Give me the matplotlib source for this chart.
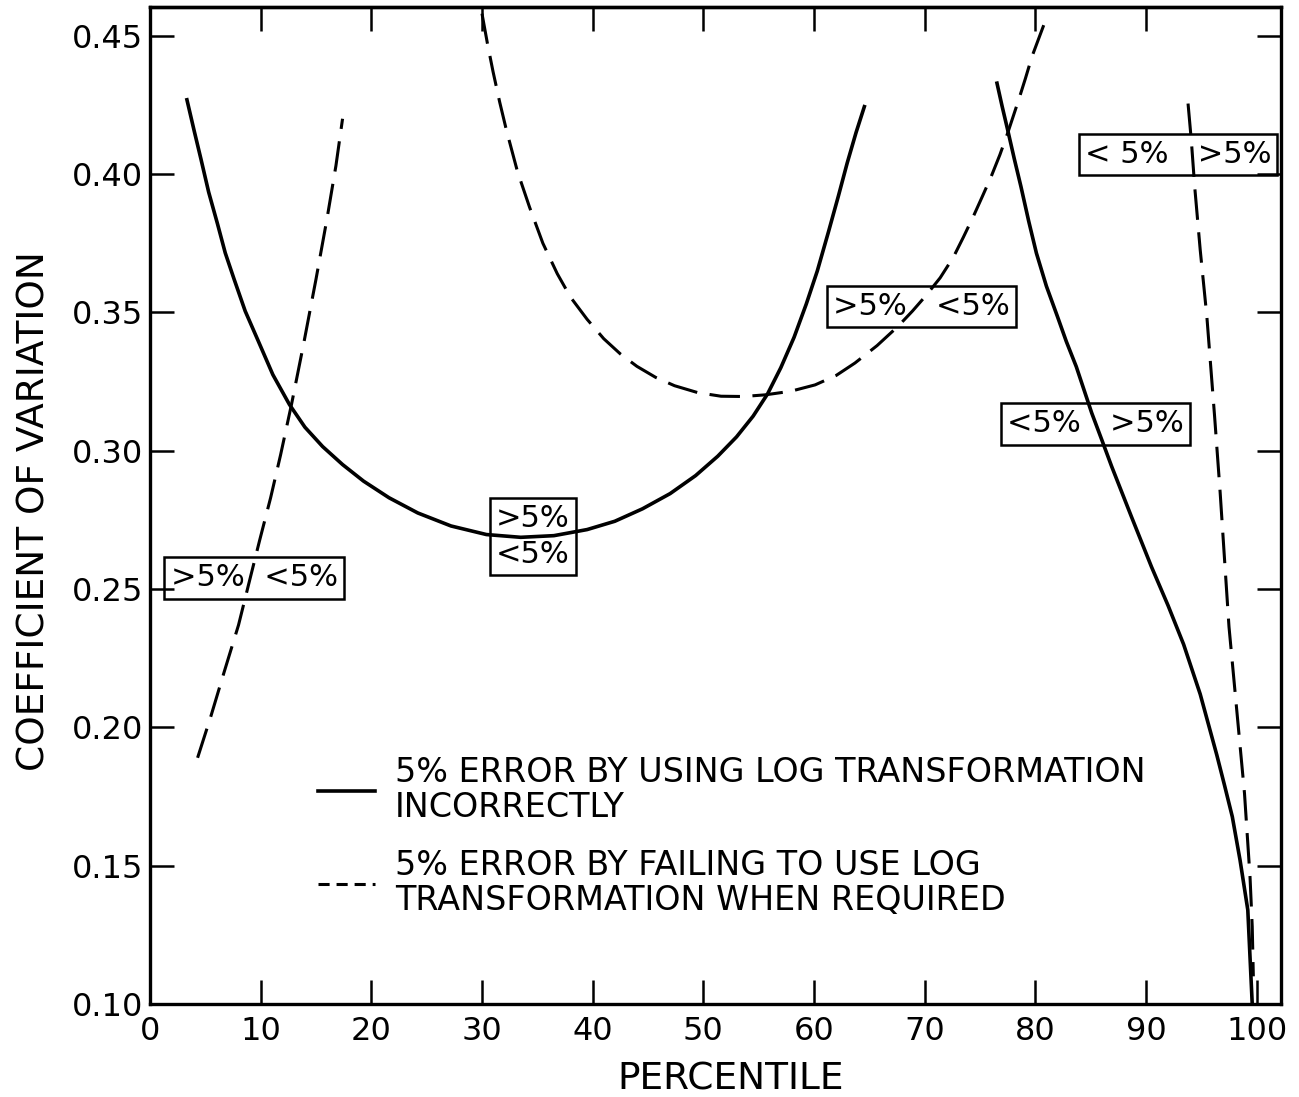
import matplotlib
matplotlib.use("Agg")
import matplotlib.pyplot as plt
from matplotlib.lines import Line2D
from matplotlib.ticker import FormatStrFormatter

plt.rcParams['font.family'] = ['DejaVu Sans']
plt.rcParams['lines.scale_dashes'] = False

# ---------------- data ----------------
# solid: 5% error by using log transformation incorrectly
solid_u_x = [3.3, 4.0, 4.6, 5.3, 6.1, 6.8, 7.6, 8.6, 9.8, 11.1, 12.6, 14.0, 15.6,
             17.4, 19.3, 21.6, 24.2, 27.2, 30.4, 33.5, 36.5, 39.5, 42.0, 44.5,
             47.0, 49.3, 51.3, 53.0, 54.5, 55.8, 57.0, 58.2, 59.3, 60.3, 61.3,
             62.2, 63.0, 63.8, 64.6]
solid_u_y = [0.4275, 0.4155, 0.4055, 0.3935, 0.382, 0.3715, 0.362, 0.3505, 0.3395,
             0.3275, 0.3167, 0.3085, 0.3015, 0.2950, 0.2890, 0.2830, 0.2775, 0.2728,
             0.2697, 0.2687, 0.2693, 0.2715, 0.2745, 0.2790, 0.2845, 0.2910, 0.2980,
             0.3050, 0.3125, 0.3205, 0.3300, 0.3410, 0.3530, 0.3650, 0.3790, 0.3920,
             0.4040, 0.4150, 0.4250]

solid_r_x = [76.5, 77.0, 77.5, 78.1, 78.7, 79.4, 80.1, 81.0, 82.0, 82.8, 83.7, 84.4,
             85.1, 86.0, 86.9, 88.7, 90.5, 92.0, 93.4, 94.9, 96.4, 97.1, 97.8, 98.5,
             99.2, 99.6]
solid_r_y = [0.4335, 0.4245, 0.416, 0.4055, 0.3955, 0.3830, 0.3714, 0.3595, 0.3485,
             0.3395, 0.3304, 0.3220, 0.3136, 0.3040, 0.2943, 0.2760, 0.2580, 0.2440,
             0.2300, 0.2120, 0.1900, 0.1790, 0.1677, 0.1520, 0.1340, 0.1000]

# dashed: 5% error by failing to use log transformation when required
dash_l_x = [4.3, 5.5, 6.7, 8.0, 8.9, 9.9, 10.9, 11.8, 12.8, 13.9, 15.0, 16.0, 16.8, 17.4]
dash_l_y = [0.189, 0.204, 0.220, 0.237, 0.2515, 0.2675, 0.283, 0.2985, 0.317, 0.339,
            0.362, 0.384, 0.403, 0.420]

dash_u_x = [30.0, 30.5, 31.0, 31.6, 32.2, 33.2, 34.3, 35.5, 36.8, 38.0, 39.5, 41.0,
            42.5, 44.0, 45.7, 47.4, 49.5, 51.6, 53.6, 55.6, 57.9, 60.1, 62.0, 63.7,
            65.7, 67.6, 68.9, 70.1, 71.4, 72.6, 73.5, 74.4, 75.2, 76.0, 76.8, 77.5,
            78.5, 79.1, 79.7, 80.4, 81.0]
dash_u_y = [0.458, 0.447, 0.437, 0.426, 0.416, 0.401, 0.388, 0.375, 0.364, 0.3555,
            0.3475, 0.3405, 0.335, 0.3305, 0.3265, 0.3235, 0.3210, 0.3197, 0.3196,
            0.3202, 0.3215, 0.3238, 0.3272, 0.3317, 0.3380, 0.3450, 0.3505, 0.3560,
            0.3625, 0.3700, 0.3772, 0.3847, 0.3918, 0.3990, 0.4070, 0.4148, 0.4269,
            0.4345, 0.4425, 0.4500, 0.4564]

dash_r_x = [93.8, 94.1, 94.4, 94.9, 95.5, 96.2, 96.7, 97.1, 97.5, 98.2, 98.9, 99.4,
            99.6, 99.7]
dash_r_y = [0.4255, 0.412, 0.3955, 0.3726, 0.3485, 0.3124, 0.285, 0.2606, 0.2364,
            0.2063, 0.1762, 0.146, 0.128, 0.110]

x_ticks = [0, 10, 20, 30, 40, 50, 60, 70, 80, 90, 100]
x_top_ticks = [10, 20, 30, 40, 50, 60, 70, 80, 90]
y_ticks = [0.10, 0.15, 0.20, 0.25, 0.30, 0.35, 0.40, 0.45]

legend_labels = ["5% ERROR BY USING LOG TRANSFORMATION\nINCORRECTLY",
                 "5% ERROR BY FAILING TO USE LOG\nTRANSFORMATION WHEN REQUIRED"]

region_labels = [
    (9.4, 0.254, ">5%  <5%"),
    (34.6, 0.2689, ">5%\n<5%"),
    (69.7, 0.352, ">5%   <5%"),
    (85.4, 0.3097, "<5%   >5%"),
    (92.9, 0.407, "< 5%   >5%"),
]

# ---------------- figure ----------------
W, H = 1299, 1097
fig = plt.figure(figsize=(W / 100, H / 100), dpi=100)
ax = fig.add_axes([150 / W, 93 / H, 1131 / W, 997 / H])
ax.set_xlim(0, 102.2)
ax.set_ylim(0.10, 0.4604)

solid_kw = dict(color='black', lw=2.6, solid_capstyle='butt', solid_joinstyle='round', zorder=3)
dash_kw = dict(color='black', lw=2.2, linestyle=(0, (22, 9)), dash_capstyle='butt', zorder=3)

ax.plot(solid_u_x, solid_u_y, **solid_kw)
ax.plot(solid_r_x, solid_r_y, **solid_kw)
ax.plot(dash_l_x, dash_l_y, **dash_kw)
ax.plot(dash_u_x, dash_u_y, **dash_kw)
ax.plot(dash_r_x, dash_r_y, **dash_kw)

for x, y, s in region_labels:
    ax.text(x, y, s, ha='center', va='center', fontsize=22, linespacing=1.3,
            bbox=dict(boxstyle='square,pad=0.2', fc='none', ec='black', lw=1.8),
            zorder=2)

ax.set_xticks(x_ticks)
ax.set_xticklabels([str(v) for v in x_ticks])
ax.set_yticks(y_ticks)
ax.yaxis.set_major_formatter(FormatStrFormatter('%.2f'))
ax.tick_params(direction='in', length=17, width=1.8, top=False, right=True,
               labelsize=23)
ax.tick_params(axis='x', pad=9)
ax.tick_params(axis='y', pad=5)
for sp in ax.spines.values():
    sp.set_linewidth(2.4)

top = ax.secondary_xaxis('top')
top.set_xticks(x_top_ticks)
top.set_xticklabels([])
top.tick_params(direction='in', length=17, width=1.8)
top.spines['top'].set_linewidth(2.4)

ax.set_xlabel("PERCENTILE", fontsize=27)
ax.set_ylabel("COEFFICIENT OF VARIATION", fontsize=27)
ax.xaxis.set_label_coords(0.513, -0.058)
ax.yaxis.set_label_coords(-0.086, 0.494)

handles = [Line2D([], [], color='black', lw=2.6),
           Line2D([], [], color='black', lw=2.2, linestyle=(0, (8, 5)))]
leg = ax.legend(handles, legend_labels, loc='upper left',
                bbox_to_anchor=((318 - 150) / 1131, (1004 - 756) / 997),
                frameon=False, fontsize=24, handlelength=1.7, handletextpad=0.6,
                labelspacing=0.75, borderpad=0, borderaxespad=0)
for t in leg.get_texts():
    t.set_linespacing(1.08)

fig.savefig("out.png", dpi=100)
